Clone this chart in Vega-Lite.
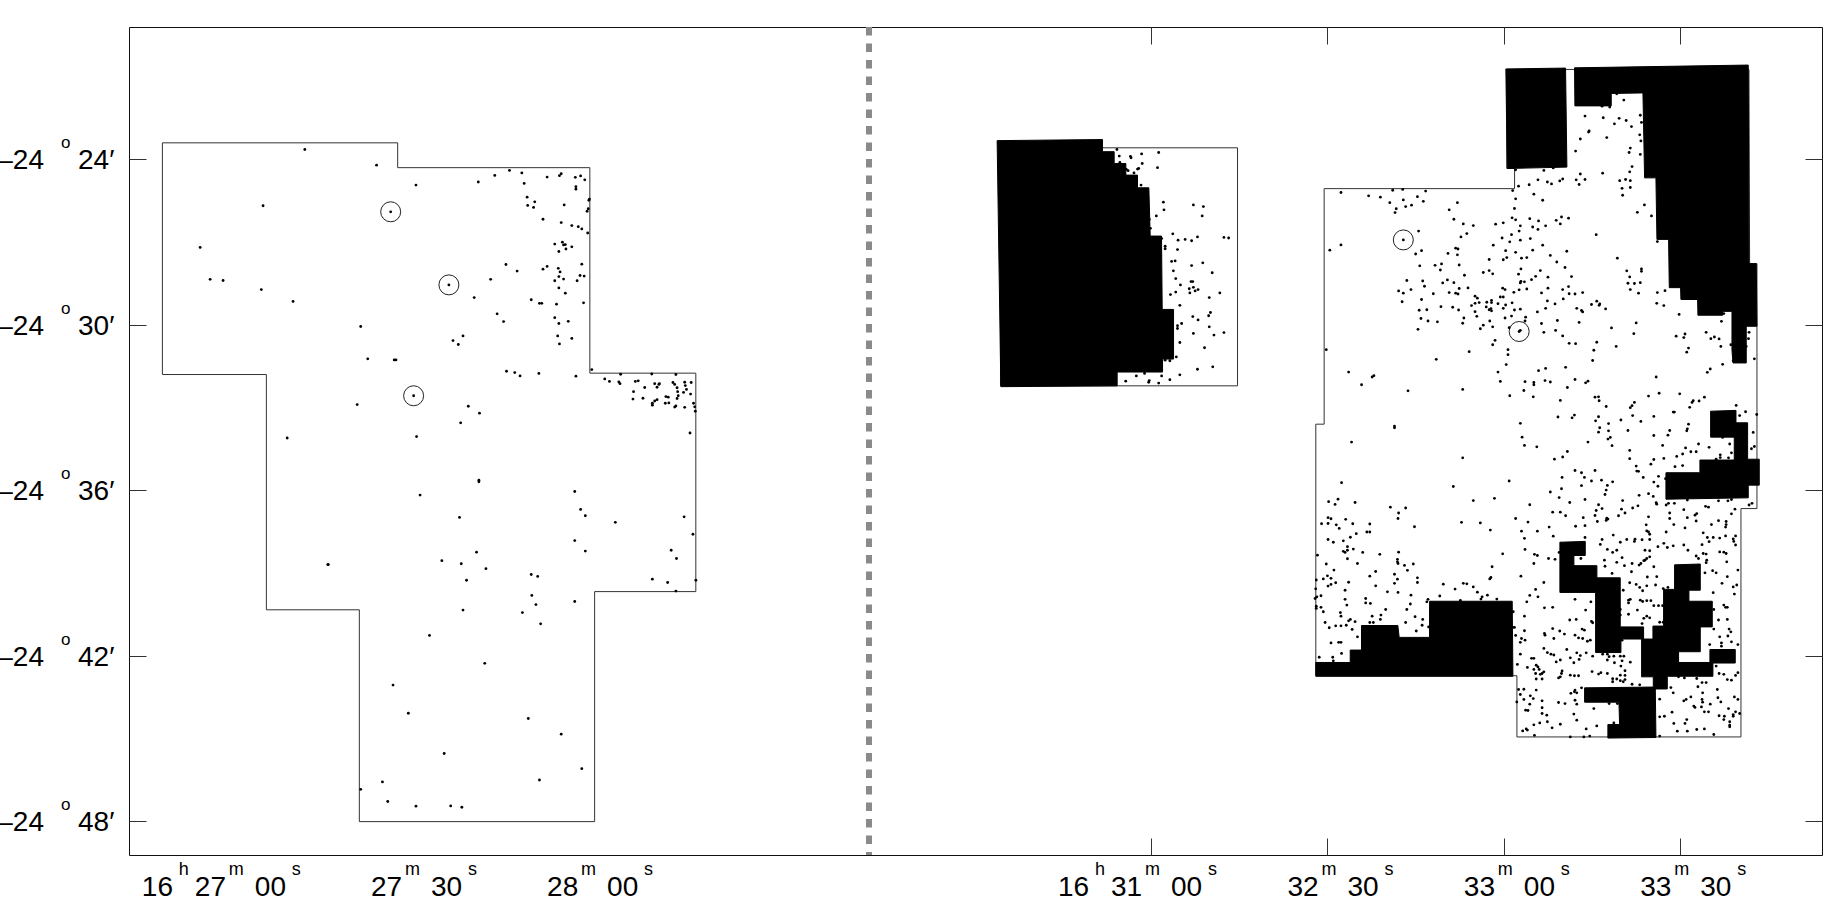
{"$schema":"https://vega.github.io/schema/vega-lite/v6.json","width":1693,"height":828,"autosize":"none","padding":{"left":129,"top":27,"right":17,"bottom":45},"background":"white","config":{"view":{"stroke":"#111","strokeWidth":1},"font":"Liberation Sans"},
"datasets":{
"outlines":[
{"poly":"L","n":1,"ra":-168.12,"dec":23.40},{"poly":"L","n":2,"ra":-128.11,"dec":23.40},{"poly":"L","n":3,"ra":-128.11,"dec":24.30},{"poly":"L","n":4,"ra":-95.43,"dec":24.30},{"poly":"L","n":5,"ra":-95.43,"dec":31.75},{"poly":"L","n":6,"ra":-77.41,"dec":31.75},{"poly":"L","n":7,"ra":-77.41,"dec":39.67},{"poly":"L","n":8,"ra":-94.62,"dec":39.67},{"poly":"L","n":9,"ra":-94.62,"dec":48.01},{"poly":"L","n":10,"ra":-134.63,"dec":48.01},{"poly":"L","n":11,"ra":-134.63,"dec":40.33},{"poly":"L","n":12,"ra":-150.44,"dec":40.33},{"poly":"L","n":13,"ra":-150.44,"dec":31.80},{"poly":"L","n":14,"ra":-168.12,"dec":31.80},
{"poly":"M","n":1,"ra":-25.6,"dec":23.58},{"poly":"M","n":2,"ra":14.71,"dec":23.58},{"poly":"M","n":3,"ra":14.71,"dec":32.21},{"poly":"M","n":4,"ra":-25.6,"dec":32.21},
{"poly":"R","n":1,"ra":29.44,"dec":25.06},{"poly":"R","n":2,"ra":61.82,"dec":25.06},{"poly":"R","n":3,"ra":61.82,"dec":24.33},{"poly":"R","n":4,"ra":60.51,"dec":24.33},{"poly":"R","n":5,"ra":60.51,"dec":20.74},{"poly":"R","n":6,"ra":101.68,"dec":20.74},{"poly":"R","n":7,"ra":101.79,"dec":27.78},{"poly":"R","n":8,"ra":103.04,"dec":27.78},{"poly":"R","n":9,"ra":103.04,"dec":36.66},{"poly":"R","n":10,"ra":100.32,"dec":36.66},{"poly":"R","n":11,"ra":100.32,"dec":44.94},{"poly":"R","n":12,"ra":62.22,"dec":44.94},{"poly":"R","n":13,"ra":62.22,"dec":42.72},{"poly":"R","n":14,"ra":28.02,"dec":42.72},{"poly":"R","n":15,"ra":28.02,"dec":33.60},{"poly":"R","n":16,"ra":29.44,"dec":33.60}],
"masks":[
{"poly":"m","n":1,"ra":-26.17,"dec":23.32},{"poly":"m","n":2,"ra":-8.25,"dec":23.28},{"poly":"m","n":3,"ra":-8.25,"dec":23.72},{"poly":"m","n":4,"ra":-6.27,"dec":23.72},{"poly":"m","n":5,"ra":-6.27,"dec":24.15},{"poly":"m","n":6,"ra":-4.28,"dec":24.15},{"poly":"m","n":7,"ra":-4.28,"dec":24.57},{"poly":"m","n":8,"ra":-2.30,"dec":24.57},{"poly":"m","n":9,"ra":-2.30,"dec":25.03},{"poly":"m","n":10,"ra":-0.37,"dec":25.03},{"poly":"m","n":11,"ra":-0.14,"dec":26.78},{"poly":"m","n":12,"ra":1.78,"dec":26.78},{"poly":"m","n":13,"ra":1.90,"dec":29.44},{"poly":"m","n":14,"ra":3.83,"dec":29.44},{"poly":"m","n":15,"ra":3.83,"dec":31.24},{"poly":"m","n":16,"ra":1.96,"dec":31.24},{"poly":"m","n":17,"ra":1.96,"dec":31.71},{"poly":"m","n":18,"ra":-5.76,"dec":31.71},{"poly":"m","n":19,"ra":-5.76,"dec":32.21},{"poly":"m","n":20,"ra":-25.54,"dec":32.24},
{"poly":"a","n":1,"ra":60.34,"dec":20.72},{"poly":"a","n":2,"ra":70.49,"dec":20.69},{"poly":"a","n":3,"ra":70.72,"dec":24.28},{"poly":"a","n":4,"ra":60.57,"dec":24.33},
{"poly":"b","n":1,"ra":72.02,"dec":20.68},{"poly":"b","n":2,"ra":101.56,"dec":20.58},{"poly":"b","n":3,"ra":101.68,"dec":27.78},{"poly":"b","n":4,"ra":102.92,"dec":27.78},{"poly":"b","n":5,"ra":103.04,"dec":30.05},{"poly":"b","n":6,"ra":101.22,"dec":30.05},{"poly":"b","n":7,"ra":101.22,"dec":31.38},{"poly":"b","n":8,"ra":98.96,"dec":31.38},{"poly":"b","n":9,"ra":98.79,"dec":30.92},{"poly":"b","n":10,"ra":98.79,"dec":29.51},{"poly":"b","n":11,"ra":97.20,"dec":29.51},{"poly":"b","n":12,"ra":97.20,"dec":29.65},{"poly":"b","n":13,"ra":93.0,"dec":29.65},{"poly":"b","n":14,"ra":92.95,"dec":29.08},{"poly":"b","n":15,"ra":90.11,"dec":29.08},{"poly":"b","n":16,"ra":90.05,"dec":28.65},{"poly":"b","n":17,"ra":88.13,"dec":28.65},{"poly":"b","n":18,"ra":88.01,"dec":26.90},{"poly":"b","n":19,"ra":86.03,"dec":26.90},{"poly":"b","n":20,"ra":85.86,"dec":24.67},{"poly":"b","n":21,"ra":83.93,"dec":24.67},{"poly":"b","n":22,"ra":83.65,"dec":21.59},{"poly":"b","n":23,"ra":78.26,"dec":21.61},{"poly":"b","n":24,"ra":78.26,"dec":22.06},{"poly":"b","n":25,"ra":72.08,"dec":22.06},
{"poly":"c","n":1,"ra":95.16,"dec":33.13},{"poly":"c","n":2,"ra":99.47,"dec":33.10},{"poly":"c","n":3,"ra":99.47,"dec":33.55},{"poly":"c","n":4,"ra":101.45,"dec":33.55},{"poly":"c","n":5,"ra":101.45,"dec":34.87},{"poly":"c","n":6,"ra":103.43,"dec":34.87},{"poly":"c","n":7,"ra":103.43,"dec":35.81},{"poly":"c","n":8,"ra":101.56,"dec":35.81},{"poly":"c","n":9,"ra":101.56,"dec":36.27},{"poly":"c","n":10,"ra":87.56,"dec":36.32},{"poly":"c","n":11,"ra":87.56,"dec":35.36},{"poly":"c","n":12,"ra":93.34,"dec":35.36},{"poly":"c","n":13,"ra":93.34,"dec":34.90},{"poly":"c","n":14,"ra":99.18,"dec":34.90},{"poly":"c","n":15,"ra":99.18,"dec":34.07},{"poly":"c","n":16,"ra":95.16,"dec":34.07},
{"poly":"d","n":1,"ra":28.02,"dec":42.24},{"poly":"d","n":2,"ra":33.87,"dec":42.24},{"poly":"d","n":3,"ra":33.87,"dec":41.79},{"poly":"d","n":4,"ra":35.79,"dec":41.79},{"poly":"d","n":5,"ra":35.79,"dec":40.90},{"poly":"d","n":6,"ra":41.97,"dec":40.90},{"poly":"d","n":7,"ra":42.20,"dec":41.33},{"poly":"d","n":8,"ra":47.36,"dec":41.33},{"poly":"d","n":9,"ra":47.36,"dec":40.02},{"poly":"d","n":10,"ra":61.42,"dec":40.02},{"poly":"d","n":11,"ra":61.54,"dec":42.74},{"poly":"d","n":12,"ra":28.02,"dec":42.74},
{"poly":"e","n":1,"ra":69.53,"dec":37.88},{"poly":"e","n":2,"ra":73.84,"dec":37.85},{"poly":"e","n":3,"ra":73.84,"dec":38.36},{"poly":"e","n":4,"ra":71.91,"dec":38.36},{"poly":"e","n":5,"ra":71.91,"dec":38.73},{"poly":"e","n":6,"ra":75.82,"dec":38.73},{"poly":"e","n":7,"ra":75.82,"dec":39.17},{"poly":"e","n":8,"ra":79.79,"dec":39.17},{"poly":"e","n":9,"ra":79.79,"dec":40.95},{"poly":"e","n":10,"ra":83.76,"dec":40.95},{"poly":"e","n":11,"ra":83.76,"dec":41.39},{"poly":"e","n":12,"ra":79.91,"dec":41.39},{"poly":"e","n":13,"ra":79.91,"dec":41.88},{"poly":"e","n":14,"ra":75.60,"dec":41.88},{"poly":"e","n":15,"ra":75.60,"dec":39.70},{"poly":"e","n":16,"ra":69.53,"dec":39.70},
{"poly":"f","n":1,"ra":89.03,"dec":38.70},{"poly":"f","n":2,"ra":93.40,"dec":38.67},{"poly":"f","n":3,"ra":93.40,"dec":39.62},{"poly":"f","n":4,"ra":91.47,"dec":39.62},{"poly":"f","n":5,"ra":91.47,"dec":40.02},{"poly":"f","n":6,"ra":95.44,"dec":40.02},{"poly":"f","n":7,"ra":95.44,"dec":40.95},{"poly":"f","n":8,"ra":93.40,"dec":40.95},{"poly":"f","n":9,"ra":93.40,"dec":41.85},{"poly":"f","n":10,"ra":89.71,"dec":41.85},{"poly":"f","n":11,"ra":89.71,"dec":42.24},{"poly":"f","n":12,"ra":95.04,"dec":42.24},{"poly":"f","n":13,"ra":95.04,"dec":41.77},{"poly":"f","n":14,"ra":99.35,"dec":41.77},{"poly":"f","n":15,"ra":99.35,"dec":42.26},{"poly":"f","n":16,"ra":95.55,"dec":42.26},{"poly":"f","n":17,"ra":95.55,"dec":42.74},{"poly":"f","n":18,"ra":87.79,"dec":42.74},{"poly":"f","n":19,"ra":87.79,"dec":43.20},{"poly":"f","n":20,"ra":85.41,"dec":43.20},{"poly":"f","n":21,"ra":85.41,"dec":42.76},{"poly":"f","n":22,"ra":83.42,"dec":42.76},{"poly":"f","n":23,"ra":83.42,"dec":41.39},{"poly":"f","n":24,"ra":85.35,"dec":41.39},{"poly":"f","n":25,"ra":85.35,"dec":40.92},{"poly":"f","n":26,"ra":87.16,"dec":40.92},{"poly":"f","n":27,"ra":87.16,"dec":39.59},{"poly":"f","n":28,"ra":89.03,"dec":39.59},
{"poly":"h","n":1,"ra":73.73,"dec":43.16},{"poly":"h","n":2,"ra":85.75,"dec":43.13},{"poly":"h","n":3,"ra":85.86,"dec":44.96},{"poly":"h","n":4,"ra":77.69,"dec":44.98},{"poly":"h","n":5,"ra":77.69,"dec":44.49},{"poly":"h","n":6,"ra":79.68,"dec":44.49},{"poly":"h","n":7,"ra":79.57,"dec":43.68},{"poly":"h","n":8,"ra":73.73,"dec":43.68}],
"circles":[{"ra":-129.3,"dec":25.90},{"ra":-119.4,"dec":28.55},{"ra":-125.4,"dec":32.57},{"ra":42.9,"dec":26.92},{"ra":62.6,"dec":30.24}],
"sources":[
{"ra":-143.9,"dec":23.64},{"ra":-131.7,"dec":24.21},{"ra":-125.0,"dec":24.93},{"ra":-114.4,"dec":24.82},{"ra":-111.6,"dec":24.58},{"ra":-109.1,"dec":24.40},{"ra":-107.0,"dec":24.49},{"ra":-106.6,"dec":24.87},{"ra":-102.7,"dec":24.64},{"ra":-100.6,"dec":24.59},{"ra":-100.3,"dec":24.52},{"ra":-97.9,"dec":24.65},{"ra":-97.0,"dec":24.60},{"ra":-96.3,"dec":24.74},{"ra":-97.8,"dec":24.99},{"ra":-97.8,"dec":25.08},{"ra":-95.6,"dec":25.48},{"ra":-95.5,"dec":25.44},{"ra":-106.1,"dec":25.37},{"ra":-104.8,"dec":25.54},{"ra":-106.0,"dec":25.67},{"ra":-105.0,"dec":25.74},{"ra":-99.8,"dec":25.65},{"ra":-95.7,"dec":25.79},{"ra":-95.9,"dec":25.88},{"ra":-151.0,"dec":25.68},{"ra":-129.3,"dec":25.90},{"ra":-103.4,"dec":26.17},{"ra":-100.3,"dec":26.29},{"ra":-98.5,"dec":26.40},{"ra":-97.4,"dec":26.44},{"ra":-96.8,"dec":26.52},{"ra":-95.8,"dec":26.67},{"ra":-161.7,"dec":27.19},{"ra":-101.4,"dec":27.07},{"ra":-100.1,"dec":27.00},{"ra":-99.9,"dec":27.10},{"ra":-99.6,"dec":27.09},{"ra":-98.5,"dec":27.17},{"ra":-99.5,"dec":27.25},{"ra":-100.7,"dec":27.34},{"ra":-109.7,"dec":27.81},{"ra":-107.8,"dec":28.05},{"ra":-103.4,"dec":27.98},{"ra":-102.7,"dec":27.88},{"ra":-100.8,"dec":27.95},{"ra":-100.5,"dec":28.08},{"ra":-96.8,"dec":27.80},{"ra":-97.1,"dec":28.21},{"ra":-96.4,"dec":28.23},{"ra":-100.7,"dec":28.25},{"ra":-99.9,"dec":28.34},{"ra":-101.4,"dec":28.40},{"ra":-97.6,"dec":28.40},{"ra":-160.0,"dec":28.35},{"ra":-157.8,"dec":28.39},{"ra":-119.4,"dec":28.55},{"ra":-112.3,"dec":28.35},{"ra":-151.3,"dec":28.72},{"ra":-100.7,"dec":28.66},{"ra":-99.6,"dec":28.85},{"ra":-115.1,"dec":29.01},{"ra":-105.4,"dec":29.09},{"ra":-104.0,"dec":29.22},{"ra":-103.6,"dec":29.22},{"ra":-101.1,"dec":29.25},{"ra":-96.5,"dec":29.20},{"ra":-145.9,"dec":29.15},{"ra":-111.2,"dec":29.60},{"ra":-110.1,"dec":29.88},{"ra":-101.4,"dec":29.74},{"ra":-100.7,"dec":29.95},{"ra":-99.1,"dec":29.87},{"ra":-134.4,"dec":30.06},{"ra":-100.9,"dec":30.40},{"ra":-98.5,"dec":30.49},{"ra":-117.0,"dec":30.40},{"ra":-118.7,"dec":30.57},{"ra":-117.8,"dec":30.71},{"ra":-100.6,"dec":30.69},{"ra":-133.2,"dec":31.23},{"ra":-128.7,"dec":31.27},{"ra":-128.4,"dec":31.27},{"ra":-109.6,"dec":31.68},{"ra":-108.2,"dec":31.73},{"ra":-107.3,"dec":31.85},{"ra":-104.1,"dec":31.76},{"ra":-97.8,"dec":31.86},{"ra":-95.1,"dec":31.62},{"ra":-92.9,"dec":31.96},{"ra":-92.1,"dec":32.05},{"ra":-90.2,"dec":31.79},{"ra":-90.5,"dec":32.07},{"ra":-90.3,"dec":32.13},{"ra":-87.7,"dec":32.05},{"ra":-87.2,"dec":32.03},{"ra":-84.9,"dec":31.78},{"ra":-80.8,"dec":31.80},{"ra":-84.4,"dec":32.13},{"ra":-83.6,"dec":32.13},{"ra":-84.0,"dec":32.26},{"ra":-83.7,"dec":32.16},{"ra":-86.1,"dec":32.27},{"ra":-88.0,"dec":32.42},{"ra":-88.1,"dec":32.69},{"ra":-86.4,"dec":32.66},{"ra":-81.3,"dec":32.09},{"ra":-81.0,"dec":32.16},{"ra":-79.3,"dec":32.08},{"ra":-78.2,"dec":32.09},{"ra":-79.2,"dec":32.20},{"ra":-80.6,"dec":32.28},{"ra":-80.5,"dec":32.42},{"ra":-79.0,"dec":32.34},{"ra":-79.5,"dec":32.45},{"ra":-78.3,"dec":32.51},{"ra":-82.1,"dec":32.62},{"ra":-82.5,"dec":32.60},{"ra":-80.4,"dec":32.57},{"ra":-80.6,"dec":32.67},{"ra":-125.4,"dec":32.57},{"ra":-84.0,"dec":32.71},{"ra":-84.4,"dec":32.76},{"ra":-84.8,"dec":32.84},{"ra":-84.8,"dec":32.91},{"ra":-82.6,"dec":32.84},{"ra":-82.0,"dec":32.83},{"ra":-77.8,"dec":32.84},{"ra":-77.6,"dec":32.97},{"ra":-80.8,"dec":32.94},{"ra":-81.0,"dec":32.98},{"ra":-79.3,"dec":32.99},{"ra":-77.5,"dec":33.13},{"ra":-135.0,"dec":32.89},{"ra":-116.1,"dec":32.95},{"ra":-114.2,"dec":33.20},{"ra":-117.4,"dec":33.55},{"ra":-146.9,"dec":34.10},{"ra":-124.9,"dec":34.05},{"ra":-78.4,"dec":33.92},
{"ra":-114.3,"dec":35.63},{"ra":-114.3,"dec":35.69},{"ra":-124.3,"dec":36.17},{"ra":-98.0,"dec":36.04},{"ra":-117.6,"dec":36.98},{"ra":-97.0,"dec":36.69},{"ra":-96.2,"dec":36.92},{"ra":-91.1,"dec":37.16},{"ra":-79.4,"dec":36.96},{"ra":-77.9,"dec":37.59},{"ra":-98.0,"dec":37.82},{"ra":-96.2,"dec":38.20},{"ra":-81.6,"dec":38.17},{"ra":-80.7,"dec":38.47},{"ra":-114.7,"dec":38.24},{"ra":-120.6,"dec":38.55},{"ra":-117.3,"dec":38.66},{"ra":-113.1,"dec":38.84},{"ra":-140.0,"dec":38.69},{"ra":-139.9,"dec":38.69},{"ra":-105.4,"dec":39.05},{"ra":-104.3,"dec":39.12},{"ra":-116.4,"dec":39.26},{"ra":-84.8,"dec":39.22},{"ra":-82.2,"dec":39.34},{"ra":-80.8,"dec":39.65},{"ra":-77.4,"dec":39.26},{"ra":-105.3,"dec":39.81},{"ra":-104.6,"dec":40.14},{"ra":-98.0,"dec":40.03},{"ra":-117.0,"dec":40.34},{"ra":-106.9,"dec":40.43},{"ra":-103.8,"dec":40.84},{"ra":-122.7,"dec":41.26},{"ra":-113.3,"dec":42.27},{"ra":-128.9,"dec":43.06},{"ra":-126.3,"dec":44.08},{"ra":-105.9,"dec":44.27},{"ra":-100.3,"dec":44.84},{"ra":-120.2,"dec":45.54},{"ra":-96.8,"dec":46.09},{"ra":-104.0,"dec":46.50},{"ra":-130.7,"dec":46.57},{"ra":-134.4,"dec":46.84},{"ra":-129.8,"dec":47.28},{"ra":-125.0,"dec":47.45},{"ra":-119.1,"dec":47.44},{"ra":-117.2,"dec":47.49},
{"ra":-5.8,"dec":23.64},{"ra":-5.4,"dec":23.88},{"ra":-3.5,"dec":23.89},{"ra":-3.4,"dec":23.94},{"ra":-1.6,"dec":23.80},{"ra":1.3,"dec":23.75},{"ra":-5.3,"dec":24.11},{"ra":-1.5,"dec":24.15},{"ra":-4.2,"dec":24.36},{"ra":-3.9,"dec":24.41},{"ra":-2.1,"dec":24.33},{"ra":-2.3,"dec":24.35},{"ra":1.1,"dec":24.30},{"ra":-2.9,"dec":24.49},{"ra":-1.7,"dec":24.93},{"ra":2.1,"dec":25.55},{"ra":7.2,"dec":25.65},{"ra":8.9,"dec":25.71},{"ra":2.2,"dec":25.83},{"ra":0.9,"dec":26.05},{"ra":8.7,"dec":26.05},{"ra":-0.3,"dec":26.18},{"ra":-0.1,"dec":26.50},{"ra":3.7,"dec":26.70},{"ra":7.9,"dec":26.81},{"ra":12.4,"dec":26.83},{"ra":13.2,"dec":26.85},{"ra":1.8,"dec":26.87},{"ra":4.6,"dec":26.93},{"ra":5.8,"dec":26.90},{"ra":6.9,"dec":26.95},{"ra":2.4,"dec":27.15},{"ra":2.4,"dec":27.24},{"ra":4.5,"dec":27.27},{"ra":3.5,"dec":27.70},{"ra":4.1,"dec":27.68},{"ra":6.9,"dec":27.85},{"ra":8.8,"dec":27.75},{"ra":3.8,"dec":28.04},{"ra":10.4,"dec":28.11},{"ra":4.2,"dec":28.32},{"ra":6.8,"dec":28.43},{"ra":7.1,"dec":28.43},{"ra":5.0,"dec":28.55},{"ra":6.5,"dec":28.69},{"ra":7.2,"dec":28.64},{"ra":8.0,"dec":28.72},{"ra":7.5,"dec":28.77},{"ra":6.6,"dec":28.84},{"ra":4.2,"dec":28.81},{"ra":3.3,"dec":28.90},{"ra":11.7,"dec":28.84},{"ra":9.9,"dec":29.01},{"ra":4.9,"dec":29.29},{"ra":10.1,"dec":29.55},{"ra":9.8,"dec":29.67},{"ra":7.1,"dec":29.70},{"ra":8.0,"dec":29.82},{"ra":5.2,"dec":29.95},{"ra":4.5,"dec":30.03},{"ra":4.5,"dec":30.13},{"ra":9.9,"dec":30.07},{"ra":7.2,"dec":30.31},{"ra":10.7,"dec":30.37},{"ra":12.4,"dec":30.28},{"ra":4.9,"dec":30.64},{"ra":9.1,"dec":30.83},{"ra":4.3,"dec":31.16},{"ra":3.2,"dec":31.30},{"ra":2.4,"dec":31.28},{"ra":7.9,"dec":31.61},{"ra":10.5,"dec":31.52},{"ra":-1.1,"dec":31.76},{"ra":-2.5,"dec":31.85},{"ra":1.8,"dec":31.85},{"ra":4.9,"dec":31.81},{"ra":-4.3,"dec":32.04},{"ra":-0.3,"dec":32.02},{"ra":-0.4,"dec":32.08},{"ra":3.2,"dec":31.99},{"ra":1.3,"dec":32.11},
{"ra":79.2,"dec":21.62},{"ra":80.4,"dec":21.85},{"ra":76.7,"dec":22.07},{"ra":78.0,"dec":22.10},{"ra":73.8,"dec":22.43},{"ra":76.9,"dec":22.49},{"ra":78.8,"dec":22.71},{"ra":79.6,"dec":22.51},{"ra":80.8,"dec":22.59},{"ra":81.7,"dec":22.81},{"ra":83.2,"dec":22.40},{"ra":83.4,"dec":22.66},{"ra":74.4,"dec":23.01},{"ra":74.5,"dec":22.97},{"ra":73.0,"dec":23.26},{"ra":77.5,"dec":23.21},{"ra":83.1,"dec":23.11},{"ra":83.3,"dec":23.33},{"ra":81.5,"dec":23.59},{"ra":81.3,"dec":23.75},{"ra":83.2,"dec":23.82},{"ra":72.2,"dec":23.70},{"ra":81.8,"dec":24.26},{"ra":81.4,"dec":24.45},{"ra":62.0,"dec":24.38},{"ra":66.8,"dec":24.40},{"ra":68.4,"dec":24.31},{"ra":76.8,"dec":24.50},{"ra":73.0,"dec":24.53},{"ra":72.3,"dec":24.74},{"ra":73.8,"dec":24.73},{"ra":72.8,"dec":24.91},{"ra":65.8,"dec":24.74},{"ra":67.4,"dec":24.82},{"ra":68.1,"dec":24.89},{"ra":69.5,"dec":24.78},{"ra":70.0,"dec":24.71},{"ra":79.7,"dec":24.77},{"ra":80.7,"dec":24.73},{"ra":81.5,"dec":24.77},{"ra":80.1,"dec":25.05},{"ra":81.5,"dec":25.02},{"ra":80.2,"dec":25.30},{"ra":62.5,"dec":24.97},{"ra":64.3,"dec":24.92},{"ra":61.5,"dec":25.13},{"ra":65.1,"dec":25.26},{"ra":66.6,"dec":25.48},{"ra":62.0,"dec":25.43},{"ra":32.3,"dec":25.20},{"ra":37.0,"dec":25.32},{"ra":39.0,"dec":25.37},{"ra":41.1,"dec":25.12},{"ra":42.8,"dec":25.09},{"ra":46.7,"dec":25.15},{"ra":45.3,"dec":25.35},{"ra":42.9,"dec":25.47},{"ra":46.3,"dec":25.52},{"ra":40.6,"dec":25.57},{"ra":41.7,"dec":25.79},{"ra":41.5,"dec":25.93},{"ra":43.3,"dec":25.71},{"ra":44.3,"dec":25.66},{"ra":52.1,"dec":25.57},{"ra":50.7,"dec":25.83},{"ra":61.8,"dec":25.78},{"ra":82.7,"dec":25.92},{"ra":83.9,"dec":25.65},{"ra":85.1,"dec":26.05},{"ra":61.4,"dec":26.12},{"ra":62.0,"dec":26.19},{"ra":64.4,"dec":26.15},{"ra":65.9,"dec":26.23},{"ra":51.5,"dec":26.17},{"ra":53.1,"dec":26.34},{"ra":54.8,"dec":26.40},{"ra":58.6,"dec":26.35},{"ra":59.9,"dec":26.30},{"ra":62.8,"dec":26.41},{"ra":64.9,"dec":26.45},{"ra":67.1,"dec":26.41},{"ra":65.8,"dec":26.54},{"ra":68.9,"dec":26.21},{"ra":69.8,"dec":26.09},{"ra":69.6,"dec":26.34},{"ra":71.0,"dec":26.13},{"ra":62.6,"dec":26.60},{"ra":45.5,"dec":26.60},{"ra":53.7,"dec":26.69},{"ra":52.7,"dec":26.81},{"ra":61.3,"dec":26.73},{"ra":59.7,"dec":26.85},{"ra":75.7,"dec":26.73},{"ra":61.0,"dec":26.99},{"ra":62.8,"dec":26.93},{"ra":64.5,"dec":26.87},{"ra":42.9,"dec":26.92},{"ra":32.3,"dec":27.10},{"ra":30.4,"dec":27.29},{"ra":86.1,"dec":26.98},{"ra":58.2,"dec":27.11},{"ra":66.6,"dec":27.11},{"ra":51.8,"dec":27.22},{"ra":52.2,"dec":27.25},{"ra":46.0,"dec":27.31},{"ra":45.0,"dec":27.43},{"ra":50.5,"dec":27.41},{"ra":60.3,"dec":27.31},{"ra":62.0,"dec":27.37},{"ra":64.9,"dec":27.29},{"ra":52.1,"dec":27.46},{"ra":67.9,"dec":27.48},{"ra":70.7,"dec":27.33},{"ra":63.0,"dec":27.58},{"ra":63.9,"dec":27.56},{"ra":60.5,"dec":27.56},{"ra":59.9,"dec":27.64},{"ra":57.5,"dec":27.63},{"ra":69.0,"dec":27.72},{"ra":79.3,"dec":27.58},{"ra":52.4,"dec":27.83},{"ra":45.7,"dec":27.86},{"ra":48.3,"dec":27.84},{"ra":49.4,"dec":27.79},{"ra":49.2,"dec":28.01},{"ra":70.4,"dec":27.92},{"ra":62.9,"dec":27.97},{"ra":66.2,"dec":28.03},{"ra":83.4,"dec":27.97},{"ra":83.4,"dec":28.06},{"ra":80.9,"dec":28.04},{"ra":56.5,"dec":28.10},{"ra":57.5,"dec":28.03},{"ra":58.1,"dec":28.15},{"ra":62.5,"dec":28.16},{"ra":53.3,"dec":28.20},{"ra":65.4,"dec":28.24},{"ra":64.7,"dec":28.36},{"ra":67.5,"dec":28.27},{"ra":71.5,"dec":28.25},{"ra":81.4,"dec":28.26},{"ra":43.5,"dec":28.39},{"ra":46.2,"dec":28.41},{"ra":50.4,"dec":28.37},{"ra":49.6,"dec":28.48},{"ra":51.5,"dec":28.47},{"ra":62.9,"dec":28.42},{"ra":62.8,"dec":28.48},{"ra":63.5,"dec":28.44},{"ra":46.5,"dec":28.60},{"ra":81.1,"dec":28.49},{"ra":82.2,"dec":28.50},{"ra":83.2,"dec":28.47},{"ra":44.2,"dec":28.72},{"ra":42.1,"dec":28.77},{"ra":42.9,"dec":28.85},{"ra":48.0,"dec":28.87},{"ra":50.7,"dec":28.83},{"ra":51.8,"dec":28.85},{"ra":52.2,"dec":28.88},{"ra":52.4,"dec":28.68},{"ra":53.9,"dec":28.66},{"ra":59.8,"dec":28.67},{"ra":60.2,"dec":28.72},{"ra":62.6,"dec":28.73},{"ra":63.9,"dec":28.70},{"ra":61.7,"dec":28.82},{"ra":67.5,"dec":28.67},{"ra":70.0,"dec":28.72},{"ra":71.0,"dec":28.61},{"ra":71.1,"dec":28.87},{"ra":72.1,"dec":28.88},{"ra":73.4,"dec":28.83},{"ra":66.4,"dec":28.84},{"ra":81.5,"dec":28.72},{"ra":82.9,"dec":28.85},{"ra":86.1,"dec":28.83},{"ra":87.4,"dec":28.76},{"ra":42.7,"dec":29.16},{"ra":46.0,"dec":29.08},{"ra":55.1,"dec":28.96},{"ra":55.5,"dec":29.03},{"ra":55.1,"dec":29.22},{"ra":55.8,"dec":29.19},{"ra":57.1,"dec":29.18},{"ra":57.9,"dec":29.11},{"ra":57.9,"dec":29.19},{"ra":59.0,"dec":29.23},{"ra":59.4,"dec":28.99},{"ra":59.9,"dec":28.99},{"ra":60.3,"dec":29.28},{"ra":61.4,"dec":29.20},{"ra":67.4,"dec":29.13},{"ra":68.7,"dec":29.24},{"ra":70.1,"dec":29.06},{"ra":74.9,"dec":29.26},{"ra":75.8,"dec":29.14},{"ra":76.3,"dec":29.24},{"ra":76.2,"dec":29.29},{"ra":86.0,"dec":29.22},{"ra":87.2,"dec":29.30},{"ra":54.5,"dec":29.30},{"ra":57.0,"dec":29.35},{"ra":49.3,"dec":29.34},{"ra":51.3,"dec":29.36},{"ra":52.3,"dec":29.46},{"ra":45.6,"dec":29.47},{"ra":46.9,"dec":29.45},{"ra":55.1,"dec":29.52},{"ra":57.5,"dec":29.45},{"ra":57.8,"dec":29.41},{"ra":57.9,"dec":29.49},{"ra":59.9,"dec":29.40},{"ra":61.8,"dec":29.46},{"ra":62.8,"dec":29.43},{"ra":67.1,"dec":29.40},{"ra":65.7,"dec":29.53},{"ra":72.4,"dec":29.40},{"ra":73.2,"dec":29.48},{"ra":73.4,"dec":29.53},{"ra":77.3,"dec":29.42},{"ra":89.8,"dec":29.62},{"ra":97.0,"dec":29.87},{"ra":97.4,"dec":29.59},{"ra":55.4,"dec":29.69},{"ra":60.2,"dec":29.75},{"ra":61.3,"dec":29.68},{"ra":63.7,"dec":29.72},{"ra":63.6,"dec":29.86},{"ra":53.2,"dec":29.75},{"ra":45.9,"dec":29.77},{"ra":47.1,"dec":29.86},{"ra":48.7,"dec":29.89},{"ra":53.0,"dec":29.94},{"ra":57.6,"dec":29.86},{"ra":69.1,"dec":29.84},{"ra":72.8,"dec":29.91},{"ra":66.4,"dec":29.95},{"ra":82.5,"dec":29.93},{"ra":56.5,"dec":30.01},{"ra":56.0,"dec":30.14},{"ra":58.1,"dec":30.07},{"ra":60.9,"dec":30.10},{"ra":45.4,"dec":30.16},{"ra":62.6,"dec":30.24},{"ra":62.8,"dec":30.20},{"ra":66.8,"dec":30.27},{"ra":68.8,"dec":30.20},{"ra":78.3,"dec":30.11},{"ra":82.1,"dec":30.32},{"ra":90.8,"dec":30.33},{"ra":89.3,"dec":30.41},{"ra":90.6,"dec":30.46},{"ra":94.4,"dec":30.27},{"ra":95.8,"dec":30.44},{"ra":95.2,"dec":30.50},{"ra":96.6,"dec":30.51},{"ra":101.7,"dec":30.27},{"ra":101.6,"dec":30.50},{"ra":70.0,"dec":30.40},{"ra":58.5,"dec":30.56},{"ra":58.1,"dec":30.72},{"ra":71.1,"dec":30.67},{"ra":72.2,"dec":30.68},{"ra":75.8,"dec":30.63},{"ra":79.1,"dec":30.78},{"ra":96.9,"dec":30.78},{"ra":98.6,"dec":30.72},{"ra":101.2,"dec":30.78},{"ra":91.4,"dec":30.84},{"ra":60.7,"dec":30.90},{"ra":29.8,"dec":30.90},
{"ra":91.1,"dec":30.99},{"ra":54.1,"dec":30.97},{"ra":60.7,"dec":31.08},{"ra":75.3,"dec":30.92},{"ra":48.5,"dec":31.25},{"ra":99.0,"dec":31.30},{"ra":102.6,"dec":31.23},{"ra":75.1,"dec":31.29},{"ra":60.4,"dec":31.44},{"ra":70.5,"dec":31.54},{"ra":67.1,"dec":31.58},{"ra":65.9,"dec":31.66},{"ra":59.0,"dec":31.71},{"ra":97.2,"dec":31.43},{"ra":95.1,"dec":31.60},{"ra":94.6,"dec":31.72},{"ra":33.6,"dec":31.71},{"ra":37.6,"dec":31.89},{"ra":37.9,"dec":31.84},{"ra":85.9,"dec":31.89},{"ra":72.1,"dec":31.98},{"ra":67.0,"dec":32.02},{"ra":67.9,"dec":32.07},{"ra":63.6,"dec":32.06},{"ra":59.4,"dec":32.05},{"ra":65.1,"dec":32.09},{"ra":65.1,"dec":32.17},{"ra":74.3,"dec":32.04},{"ra":73.9,"dec":32.10},{"ra":70.8,"dec":32.27},{"ra":35.8,"dec":32.17},{"ra":43.7,"dec":32.39},{"ra":53.0,"dec":32.34},{"ra":63.4,"dec":32.38},{"ra":86.4,"dec":32.48},{"ra":89.9,"dec":32.50},{"ra":84.6,"dec":32.58},{"ra":75.5,"dec":32.62},{"ra":76.1,"dec":32.61},{"ra":65.0,"dec":32.61},{"ra":61.0,"dec":32.57},{"ra":76.2,"dec":32.75},{"ra":69.6,"dec":32.74},{"ra":94.1,"dec":32.62},{"ra":93.2,"dec":32.76},{"ra":92.2,"dec":32.75},{"ra":92.0,"dec":32.81},{"ra":82.2,"dec":32.81},{"ra":81.8,"dec":32.93},{"ra":81.5,"dec":33.00},{"ra":91.6,"dec":32.99},{"ra":77.4,"dec":32.96},{"ra":99.5,"dec":32.92},{"ra":88.8,"dec":33.16},{"ra":89.0,"dec":33.16},{"ra":101.1,"dec":33.15},{"ra":100.1,"dec":33.29},{"ra":103.0,"dec":33.25},{"ra":76.1,"dec":33.33},{"ra":72.0,"dec":33.27},{"ra":71.6,"dec":33.37},{"ra":69.2,"dec":33.34},{"ra":81.9,"dec":33.29},{"ra":85.5,"dec":33.32},{"ra":79.9,"dec":33.45},{"ra":83.3,"dec":33.50},{"ra":75.6,"dec":33.48},{"ra":62.8,"dec":33.57},{"ra":77.8,"dec":33.58},{"ra":41.4,"dec":33.67},{"ra":41.4,"dec":33.73},{"ra":91.4,"dec":33.60},{"ra":76.3,"dec":33.73},{"ra":77.8,"dec":33.84},{"ra":81.1,"dec":33.83},{"ra":91.2,"dec":33.77},{"ra":91.1,"dec":33.84},{"ra":88.2,"dec":33.83},{"ra":102.4,"dec":33.90},{"ra":76.1,"dec":33.89},{"ra":87.9,"dec":34.00},{"ra":85.5,"dec":34.01},{"ra":63.1,"dec":34.07},{"ra":78.1,"dec":34.08},{"ra":77.7,"dec":34.14},{"ra":97.2,"dec":34.08},{"ra":34.1,"dec":34.25},{"ra":74.3,"dec":34.25},{"ra":98.4,"dec":34.32},{"ra":78.4,"dec":34.38},{"ra":87.0,"dec":34.37},{"ra":63.5,"dec":34.37},{"ra":65.6,"dec":34.42},{"ra":102.6,"dec":34.41},{"ra":102.1,"dec":34.49},{"ra":93.1,"dec":34.32},{"ra":94.9,"dec":34.44},{"ra":90.9,"dec":34.46},{"ra":70.8,"dec":34.59},{"ra":81.4,"dec":34.55},{"ra":91.8,"dec":34.60},{"ra":92.7,"dec":34.60},{"ra":90.4,"dec":34.68},{"ra":98.7,"dec":34.64},{"ra":96.8,"dec":34.71},{"ra":89.4,"dec":34.77},{"ra":70.0,"dec":34.79},{"ra":68.6,"dec":34.87},{"ra":87.2,"dec":34.84},{"ra":85.5,"dec":34.88},{"ra":81.4,"dec":34.85},{"ra":53.0,"dec":34.82},{"ra":98.2,"dec":34.82},{"ra":96.8,"dec":34.81},{"ra":96.1,"dec":34.87},{"ra":85.0,"dec":35.05},{"ra":82.5,"dec":35.12},{"ra":90.4,"dec":35.10},{"ra":89.1,"dec":35.14},{"ra":82.6,"dec":35.30},{"ra":82.9,"dec":35.31},{"ra":72.1,"dec":35.28},{"ra":73.2,"dec":35.36},{"ra":75.5,"dec":35.28},{"ra":73.7,"dec":35.53},{"ra":69.9,"dec":35.53},{"ra":83.7,"dec":35.53},{"ra":86.3,"dec":35.49},{"ra":87.5,"dec":35.58},{"ra":74.9,"dec":35.66},{"ra":76.6,"dec":35.63},{"ra":78.5,"dec":35.69},{"ra":60.9,"dec":35.66},{"ra":85.5,"dec":35.70},{"ra":51.4,"dec":35.86},{"ra":32.4,"dec":35.72},{"ra":73.2,"dec":35.83},{"ra":77.6,"dec":35.82},{"ra":69.8,"dec":35.94},{"ra":77.4,"dec":35.99},{"ra":86.2,"dec":35.85},{"ra":77.2,"dec":36.15},{"ra":67.9,"dec":36.06},{"ra":84.6,"dec":36.12},{"ra":85.4,"dec":36.22},{"ra":83.0,"dec":36.18},{"ra":58.4,"dec":36.29},{"ra":54.8,"dec":36.37},{"ra":69.4,"dec":36.26},{"ra":73.8,"dec":36.33},{"ra":80.2,"dec":36.37},{"ra":30.2,"dec":36.41},{"ra":31.8,"dec":36.32},{"ra":34.7,"dec":36.44},{"ra":31.3,"dec":36.51},{"ra":71.2,"dec":36.44},{"ra":64.4,"dec":36.52},{"ra":85.9,"dec":36.45},{"ra":86.0,"dec":36.50},{"ra":88.0,"dec":36.47},{"ra":87.6,"dec":36.53},{"ra":89.0,"dec":36.47},{"ra":91.2,"dec":36.35},{"ra":96.5,"dec":36.38},{"ra":98.1,"dec":36.38},{"ra":98.7,"dec":36.33},{"ra":101.7,"dec":36.53},{"ra":102.2,"dec":36.47},{"ra":76.1,"dec":36.52},{"ra":40.7,"dec":36.61},{"ra":43.3,"dec":36.64},{"ra":76.7,"dec":36.66},{"ra":75.7,"dec":36.73},{"ra":80.0,"dec":36.68},{"ra":81.9,"dec":36.64},{"ra":82.8,"dec":36.56},{"ra":94.3,"dec":36.58},{"ra":94.8,"dec":36.61},{"ra":99.3,"dec":36.68},{"ra":68.3,"dec":36.79},{"ra":69.6,"dec":36.79},{"ra":80.6,"dec":36.82},{"ra":42.1,"dec":36.82},{"ra":88.2,"dec":36.82},{"ra":98.7,"dec":36.85},{"ra":92.8,"dec":36.84},{"ra":92.5,"dec":36.90},{"ra":75.5,"dec":36.91},{"ra":79.5,"dec":36.92},{"ra":70.5,"dec":36.92},{"ra":84.6,"dec":36.96},{"ra":42.0,"dec":37.02},{"ra":30.1,"dec":36.99},{"ra":30.6,"dec":37.03},{"ra":73.5,"dec":36.99},{"ra":62.0,"dec":37.02},{"ra":77.5,"dec":37.01},{"ra":77.7,"dec":37.04},{"ra":77.4,"dec":37.09},{"ra":88.2,"dec":37.02},{"ra":90.6,"dec":36.70},{"ra":91.2,"dec":36.99},{"ra":92.7,"dec":37.11},{"ra":33.1,"dec":37.05},{"ra":64.1,"dec":37.15},{"ra":75.9,"dec":37.13},{"ra":96.5,"dec":37.10},{"ra":97.8,"dec":37.13},{"ra":52.8,"dec":37.16},{"ra":56.0,"dec":37.18},{"ra":29.0,"dec":37.21},{"ra":30.1,"dec":37.20},{"ra":34.3,"dec":37.21},{"ra":37.2,"dec":37.22},{"ra":31.5,"dec":37.25},{"ra":32.0,"dec":37.38},{"ra":44.8,"dec":37.32},{"ra":72.2,"dec":37.30},{"ra":73.8,"dec":37.28},{"ra":67.7,"dec":37.33},{"ra":84.2,"dec":37.25},{"ra":88.9,"dec":37.24},{"ra":95.3,"dec":37.24},{"ra":97.8,"dec":37.24},{"ra":97.7,"dec":37.33},{"ra":90.8,"dec":37.36},{"ra":57.7,"dec":37.44},{"ra":63.0,"dec":37.48},{"ra":65.7,"dec":37.48},{"ra":84.3,"dec":37.47},{"ra":84.6,"dec":37.51},{"ra":87.6,"dec":37.51},{"ra":93.9,"dec":37.54},{"ra":36.7,"dec":37.51},{"ra":37.2,"dec":37.51},{"ra":34.9,"dec":37.57},{"ra":33.9,"dec":37.70},{"ra":68.4,"dec":37.66},{"ra":78.6,"dec":37.62},{"ra":84.8,"dec":37.59},{"ra":73.8,"dec":37.71},{"ra":94.6,"dec":37.71},{"ra":95.6,"dec":37.71},{"ra":96.7,"dec":37.73},{"ra":97.7,"dec":37.65},{"ra":99.4,"dec":37.65},{"ra":63.5,"dec":37.74},{"ra":99.0,"dec":37.76},{"ra":76.7,"dec":37.78},{"ra":80.9,"dec":37.78},{"ra":82.3,"dec":37.77},{"ra":83.5,"dec":37.79},{"ra":84.8,"dec":37.78},{"ra":30.1,"dec":37.78},
{"ra":31.0,"dec":37.88},{"ra":32.7,"dec":37.83},{"ra":33.4,"dec":38.04},{"ra":33.4,"dec":38.17},{"ra":32.7,"dec":38.21},{"ra":33.0,"dec":38.25},{"ra":34.4,"dec":38.13},{"ra":36.0,"dec":38.25},{"ra":38.9,"dec":38.32},{"ra":42.1,"dec":38.24},{"ra":28.3,"dec":38.35},{"ra":33.4,"dec":38.48},{"ra":41.9,"dec":38.50},{"ra":41.9,"dec":38.59},{"ra":42.0,"dec":38.65},{"ra":29.8,"dec":38.67},{"ra":35.1,"dec":38.65},{"ra":43.1,"dec":38.72},{"ra":44.6,"dec":38.67},{"ra":43.6,"dec":38.90},{"ra":31.1,"dec":38.89},{"ra":38.2,"dec":38.94},{"ra":37.2,"dec":39.11},{"ra":41.4,"dec":39.04},{"ra":41.9,"dec":39.22},{"ra":41.4,"dec":39.37},{"ra":45.3,"dec":39.17},{"ra":45.3,"dec":39.34},{"ra":30.0,"dec":39.10},{"ra":29.3,"dec":39.21},{"ra":30.6,"dec":39.19},{"ra":28.1,"dec":39.25},{"ra":31.4,"dec":39.35},{"ra":30.6,"dec":39.41},{"ra":30.1,"dec":39.47},{"ra":33.6,"dec":39.33},{"ra":38.2,"dec":39.46},{"ra":28.0,"dec":39.57},{"ra":33.0,"dec":39.62},{"ra":40.2,"dec":39.68},{"ra":42.0,"dec":39.70},{"ra":44.2,"dec":39.80},{"ra":49.7,"dec":39.40},{"ra":51.7,"dec":39.58},{"ra":53.1,"dec":39.37},{"ra":53.7,"dec":39.39},{"ra":54.8,"dec":39.50},{"ra":55.5,"dec":39.69},{"ra":57.2,"dec":39.80},{"ra":49.1,"dec":39.83},{"ra":58.8,"dec":39.94},{"ra":56.3,"dec":39.86},{"ra":56.1,"dec":39.94},{"ra":52.6,"dec":39.99},{"ra":47.1,"dec":39.95},{"ra":46.9,"dec":40.04},
{"ra":27.9,"dec":39.92},{"ra":28.2,"dec":39.86},{"ra":28.9,"dec":39.82},{"ra":28.1,"dec":40.20},{"ra":28.1,"dec":40.28},{"ra":28.9,"dec":40.24},{"ra":29.3,"dec":40.40},{"ra":33.0,"dec":39.95},{"ra":36.5,"dec":39.92},{"ra":36.5,"dec":40.08},{"ra":37.3,"dec":40.10},{"ra":33.3,"dec":40.16},{"ra":32.2,"dec":40.43},{"ra":32.3,"dec":40.56},{"ra":33.9,"dec":40.68},{"ra":33.6,"dec":40.73},{"ra":34.7,"dec":40.76},{"ra":37.6,"dec":40.56},{"ra":37.2,"dec":40.79},{"ra":37.8,"dec":40.79},{"ra":39.1,"dec":40.52},{"ra":39.0,"dec":40.68},{"ra":39.9,"dec":40.32},{"ra":43.5,"dec":40.32},{"ra":44.1,"dec":40.12},{"ra":44.9,"dec":40.58},{"ra":43.3,"dec":40.79},{"ra":46.2,"dec":40.68},{"ra":46.1,"dec":40.89},{"ra":47.2,"dec":40.95},{"ra":29.6,"dec":40.79},{"ra":30.3,"dec":40.98},{"ra":31.4,"dec":40.91},{"ra":32.3,"dec":40.91},{"ra":33.2,"dec":40.89},{"ra":34.2,"dec":41.04},{"ra":35.1,"dec":41.31},{"ra":30.6,"dec":41.53},{"ra":31.9,"dec":41.51},{"ra":32.3,"dec":41.51},{"ra":32.4,"dec":41.91},{"ra":28.6,"dec":42.05},{"ra":30.9,"dec":42.05},{"ra":31.0,"dec":42.18},{"ra":45.1,"dec":41.10},
{"ra":59.8,"dec":38.30},{"ra":58.0,"dec":38.77},{"ra":57.8,"dec":39.16},{"ra":57.6,"dec":39.21},{"ra":63.6,"dec":38.14},{"ra":65.2,"dec":38.32},{"ra":65.7,"dec":38.36},{"ra":65.1,"dec":38.65},{"ra":67.6,"dec":38.47},{"ra":68.7,"dec":38.50},{"ra":69.4,"dec":38.25},{"ra":73.1,"dec":38.47},{"ra":62.9,"dec":39.11},{"ra":66.8,"dec":39.34},{"ra":65.4,"dec":39.59},{"ra":64.4,"dec":39.81},{"ra":65.8,"dec":39.86},{"ra":63.9,"dec":40.04},{"ra":76.4,"dec":37.96},{"ra":77.6,"dec":38.14},{"ra":78.5,"dec":38.25},{"ra":79.2,"dec":38.17},{"ra":79.8,"dec":37.88},{"ra":82.2,"dec":37.85},{"ra":84.0,"dec":38.17},{"ra":84.8,"dec":38.19},{"ra":86.2,"dec":38.04},{"ra":87.2,"dec":37.92},{"ra":87.8,"dec":38.07},{"ra":88.8,"dec":38.01},{"ra":90.6,"dec":37.98},{"ra":91.3,"dec":38.17},{"ra":84.8,"dec":38.41},{"ra":84.3,"dec":38.47},{"ra":83.8,"dec":38.55},{"ra":84.0,"dec":38.53},{"ra":83.3,"dec":38.65},{"ra":83.0,"dec":38.71},{"ra":81.8,"dec":38.65},{"ra":81.7,"dec":38.95},{"ra":80.5,"dec":38.73},{"ra":80.1,"dec":38.44},{"ra":79.2,"dec":38.61},{"ra":77.1,"dec":38.53},{"ra":77.2,"dec":38.75},{"ra":78.4,"dec":39.01},{"ra":84.4,"dec":39.14},{"ra":85.5,"dec":38.77},{"ra":86.0,"dec":39.13},{"ra":81.4,"dec":39.35},{"ra":80.3,"dec":39.62},{"ra":82.5,"dec":39.41},{"ra":83.1,"dec":39.52},{"ra":83.6,"dec":39.64},{"ra":84.3,"dec":39.46},{"ra":85.8,"dec":39.43},{"ra":87.1,"dec":39.56},{"ra":87.9,"dec":39.52},{"ra":92.7,"dec":38.38},{"ra":93.1,"dec":38.47},{"ra":93.9,"dec":38.29},{"ra":94.4,"dec":38.31},{"ra":94.5,"dec":38.53},{"ra":94.4,"dec":38.62},{"ra":94.2,"dec":38.99},{"ra":95.5,"dec":38.91},{"ra":96.1,"dec":38.99},{"ra":98.0,"dec":39.13},{"ra":99.8,"dec":38.89},{"ra":97.9,"dec":38.59},{"ra":96.7,"dec":38.23},{"ra":97.4,"dec":38.24},{"ra":97.8,"dec":38.29},{"ra":93.7,"dec":37.97},{"ra":99.4,"dec":37.98},{"ra":94.9,"dec":37.86},{"ra":99.1,"dec":37.85},{"ra":97.1,"dec":39.37},{"ra":99.0,"dec":39.50},{"ra":99.6,"dec":39.43},{"ra":95.6,"dec":39.71},{"ra":99.2,"dec":39.76},{"ra":97.4,"dec":40.16},{"ra":97.7,"dec":40.24},{"ra":98.0,"dec":40.24},{"ra":95.7,"dec":40.32},{"ra":94.9,"dec":40.51},{"ra":98.0,"dec":40.68},{"ra":96.5,"dec":40.70},{"ra":98.3,"dec":41.03},{"ra":98.6,"dec":41.13},{"ra":95.7,"dec":41.03},{"ra":96.7,"dec":41.31},{"ra":98.1,"dec":41.28},{"ra":98.7,"dec":41.49},{"ra":99.8,"dec":41.59},{"ra":97.0,"dec":41.53},{"ra":95.0,"dec":41.59},{"ra":97.0,"dec":41.65},{"ra":83.2,"dec":39.98},{"ra":83.6,"dec":40.03},{"ra":84.3,"dec":40.00},{"ra":85.0,"dec":40.00},{"ra":85.5,"dec":40.18},{"ra":86.3,"dec":40.18},{"ra":87.0,"dec":40.18},{"ra":81.2,"dec":39.98},{"ra":81.5,"dec":39.95},{"ra":81.2,"dec":40.08},{"ra":79.8,"dec":40.32},{"ra":79.8,"dec":40.52},{"ra":81.2,"dec":40.49},{"ra":84.3,"dec":40.56},{"ra":84.8,"dec":40.62},{"ra":83.8,"dec":40.64},{"ra":83.5,"dec":40.83},{"ra":86.5,"dec":40.78},{"ra":87.1,"dec":40.78},{"ra":82.7,"dec":40.34},{"ra":80.1,"dec":41.43},{"ra":72.1,"dec":39.95},{"ra":74.8,"dec":40.04},{"ra":73.9,"dec":40.34},{"ra":66.9,"dec":40.26},{"ra":68.3,"dec":40.24},{"ra":63.5,"dec":40.56},{"ra":72.3,"dec":40.68},{"ra":71.2,"dec":40.70},{"ra":74.9,"dec":40.75},{"ra":75.1,"dec":40.80},{"ra":61.6,"dec":40.40},{"ra":61.5,"dec":40.97},{"ra":61.8,"dec":40.97},{"ra":63.5,"dec":41.09},{"ra":63.6,"dec":41.43},{"ra":63.0,"dec":41.37},{"ra":62.0,"dec":41.26},{"ra":62.8,"dec":41.51},{"ra":66.9,"dec":41.19},{"ra":67.0,"dec":41.25},{"ra":68.3,"dec":41.01},{"ra":69.5,"dec":41.10},{"ra":70.3,"dec":41.21},{"ra":72.1,"dec":41.25},{"ra":72.7,"dec":41.35},{"ra":73.4,"dec":41.37},{"ra":73.3,"dec":41.03},{"ra":73.7,"dec":41.07},{"ra":74.7,"dec":41.43},{"ra":74.2,"dec":41.47},{"ra":68.5,"dec":41.37},{"ra":66.8,"dec":41.73},{"ra":67.4,"dec":41.88},{"ra":68.0,"dec":41.94},{"ra":68.5,"dec":41.97},{"ra":70.7,"dec":41.77},{"ra":72.4,"dec":41.89},{"ra":74.0,"dec":41.89},{"ra":75.1,"dec":42.01},{"ra":73.0,"dec":41.99},{"ra":72.8,"dec":42.13},{"ra":71.3,"dec":42.07},{"ra":69.6,"dec":42.15},{"ra":68.9,"dec":42.22},{"ra":71.9,"dec":42.25},{"ra":76.8,"dec":41.94},{"ra":77.6,"dec":41.94},{"ra":77.9,"dec":42.03},{"ra":77.6,"dec":42.15},{"ra":78.7,"dec":42.01},{"ra":78.8,"dec":42.25},{"ra":79.8,"dec":42.01},{"ra":80.4,"dec":42.01},{"ra":80.1,"dec":42.18},{"ra":81.5,"dec":42.23},{"ra":62.8,"dec":41.94},{"ra":62.3,"dec":42.31},{"ra":64.7,"dec":42.09},{"ra":65.1,"dec":42.09},{"ra":64.0,"dec":42.42},{"ra":65.1,"dec":42.49},{"ra":65.5,"dec":42.34},{"ra":65.8,"dec":42.40},{"ra":66.0,"dec":42.49},{"ra":65.4,"dec":42.64},{"ra":66.5,"dec":42.64},{"ra":66.2,"dec":42.67},{"ra":66.8,"dec":42.58},{"ra":65.5,"dec":42.84},{"ra":66.5,"dec":42.84},{"ra":69.9,"dec":42.55},{"ra":69.8,"dec":42.64},{"ra":69.6,"dec":42.76},{"ra":69.3,"dec":42.80},{"ra":71.3,"dec":42.70},{"ra":72.0,"dec":42.72},{"ra":72.7,"dec":42.72},{"ra":75.0,"dec":42.57},{"ra":76.1,"dec":42.66},{"ra":76.5,"dec":42.61},{"ra":77.6,"dec":42.64},{"ra":79.9,"dec":42.37},{"ra":80.6,"dec":42.54},{"ra":79.8,"dec":42.70},{"ra":80.6,"dec":42.71},{"ra":78.5,"dec":42.83},{"ra":79.2,"dec":42.84},{"ra":79.8,"dec":42.90},{"ra":80.3,"dec":42.94},{"ra":80.6,"dec":42.86},{"ra":78.5,"dec":42.94},{"ra":81.8,"dec":43.03},{"ra":83.1,"dec":43.05},{"ra":89.7,"dec":42.76},{"ra":90.7,"dec":42.80},{"ra":92.8,"dec":42.82},{"ra":93.7,"dec":42.97},{"ra":94.4,"dec":42.97},{"ra":96.1,"dec":42.37},{"ra":96.6,"dec":42.64},{"ra":97.4,"dec":42.67},{"ra":98.0,"dec":42.86},{"ra":98.7,"dec":42.88},{"ra":99.4,"dec":42.71},{"ra":99.8,"dec":42.61},{"ra":88.8,"dec":43.34},{"ra":88.4,"dec":43.15},{"ra":93.0,"dec":43.12},{"ra":93.8,"dec":43.34},{"ra":96.3,"dec":43.22},{"ra":96.4,"dec":43.52},{"ra":99.2,"dec":43.49},{"ra":99.8,"dec":43.58},{"ra":91.0,"dec":43.58},{"ra":90.6,"dec":43.63},{"ra":91.8,"dec":43.49},{"ra":93.7,"dec":43.58},{"ra":93.8,"dec":43.68},{"ra":92.3,"dec":43.82},{"ra":92.5,"dec":43.87},{"ra":93.6,"dec":43.85},{"ra":95.1,"dec":43.75},{"ra":94.1,"dec":44.03},{"ra":94.8,"dec":44.03},{"ra":96.9,"dec":43.67},{"ra":98.2,"dec":43.91},{"ra":99.0,"dec":44.13},{"ra":100.1,"dec":44.09},{"ra":99.4,"dec":44.03},{"ra":96.6,"dec":44.17},{"ra":97.5,"dec":44.19},{"ra":97.4,"dec":44.31},{"ra":99.0,"dec":44.19},{"ra":98.4,"dec":44.39},{"ra":98.4,"dec":44.51},{"ra":86.5,"dec":43.57},{"ra":86.5,"dec":44.21},{"ra":87.3,"dec":44.19},{"ra":88.6,"dec":44.04},{"ra":88.9,"dec":44.45},{"ra":91.1,"dec":44.31},{"ra":90.8,"dec":44.45},{"ra":89.5,"dec":44.73},{"ra":91.2,"dec":44.73},{"ra":92.8,"dec":44.67},{"ra":94.1,"dec":44.65},{"ra":95.7,"dec":44.85},{"ra":98.4,"dec":44.57},{"ra":86.5,"dec":44.91},{"ra":73.2,"dec":43.16},{"ra":72.1,"dec":43.24},{"ra":71.4,"dec":43.36},{"ra":72.0,"dec":43.30},{"ra":72.4,"dec":43.34},{"ra":72.1,"dec":43.61},{"ra":72.4,"dec":43.75},{"ra":69.3,"dec":43.69},{"ra":70.4,"dec":43.73},{"ra":75.3,"dec":43.91},{"ra":77.9,"dec":43.73},{"ra":79.3,"dec":43.73},{"ra":71.9,"dec":44.11},{"ra":72.4,"dec":44.33},{"ra":69.6,"dec":44.48},{"ra":68.2,"dec":44.61},{"ra":67.4,"dec":44.39},{"ra":66.5,"dec":44.09},{"ra":66.1,"dec":44.43},{"ra":65.1,"dec":44.50},{"ra":63.8,"dec":44.65},{"ra":63.2,"dec":44.72},{"ra":64.0,"dec":44.69},{"ra":65.2,"dec":44.88},{"ra":71.3,"dec":44.94},{"ra":73.6,"dec":44.94},{"ra":74.6,"dec":44.91},{"ra":74.0,"dec":44.65},{"ra":75.8,"dec":44.54},{"ra":78.7,"dec":44.43},{"ra":62.5,"dec":43.22},{"ra":63.4,"dec":43.21},{"ra":62.8,"dec":43.40},{"ra":62.2,"dec":43.67},{"ra":64.5,"dec":43.45},{"ra":65.0,"dec":43.55},{"ra":65.5,"dec":43.24},{"ra":63.4,"dec":43.58},{"ra":64.4,"dec":43.75},{"ra":66.5,"dec":43.63},{"ra":66.5,"dec":43.88},{"ra":63.7,"dec":43.97},{"ra":64.1,"dec":43.98},{"ra":67.3,"dec":44.15}
],
"ylabels":[{"ra":-173.8,"dec":24,"deg":"–24","o":"o","min":"24′"},{"ra":-173.8,"dec":30,"deg":"–24","o":"o","min":"30′"},{"ra":-173.8,"dec":36,"deg":"–24","o":"o","min":"36′"},{"ra":-173.8,"dec":42,"deg":"–24","o":"o","min":"42′"},{"ra":-173.8,"dec":48,"deg":"–24","o":"o","min":"48′"}],
"xlabels":[{"ra":-155.8,"dec":49.22,"hr":"16","h":"h","min":"27","m":"m","sec":"00","s":"s"},{"ra":-125.85,"dec":49.22,"min":"27","m":"m","sec":"30","s":"s"},{"ra":-95.9,"dec":49.22,"min":"28","m":"m","sec":"00","s":"s"},{"ra":0,"dec":49.22,"hr":"16","h":"h","min":"31","m":"m","sec":"00","s":"s"},{"ra":30,"dec":49.22,"min":"32","m":"m","sec":"30","s":"s"},{"ra":60,"dec":49.22,"min":"33","m":"m","sec":"00","s":"s"},{"ra":90,"dec":49.22,"min":"33","m":"m","sec":"30","s":"s"}],
"divider":[{"ra":-47.96,"dec":19.2},{"ra":-47.96,"dec":49.22}]
},
"encoding":{"x":{"field":"ra","type":"quantitative","scale":{"domain":[-173.8,114.1],"nice":false,"zero":false},"axis":null},"y":{"field":"dec","type":"quantitative","scale":{"domain":[19.2,49.22],"reverse":true,"nice":false,"zero":false},"axis":null}},
"resolve":{"axis":{"x":"independent","y":"independent"}},
"layer":[
{"data":{"name":"outlines"},"mark":{"type":"line","interpolate":"linear-closed","stroke":"#333","strokeWidth":1},"encoding":{"detail":{"field":"poly"},"order":{"field":"n","type":"quantitative"},
"x":{"field":"ra","type":"quantitative","scale":{"domain":[-173.8,114.1],"nice":false,"zero":false},"axis":{"orient":"bottom","values":[0,30,60,90],"tickSize":-17,"labels":false,"domain":false,"grid":false,"title":null,"tickColor":"#333"}},
"y":{"field":"dec","type":"quantitative","scale":{"domain":[19.2,49.22],"reverse":true,"nice":false,"zero":false},"axis":{"orient":"left","values":[24,30,36,42,48],"tickSize":-17,"labels":false,"domain":false,"grid":false,"title":null,"tickColor":"#333"}}}},
{"data":{"name":"divider"},"mark":{"type":"line","stroke":"#8a8a8a","strokeWidth":6,"strokeDash":[8.5,8]},"encoding":{
"x":{"field":"ra","type":"quantitative","scale":{"domain":[-173.8,114.1],"nice":false,"zero":false},"axis":{"orient":"top","values":[0,30,60,90],"tickSize":-17,"labels":false,"domain":false,"grid":false,"title":null,"tickColor":"#333"}},
"y":{"field":"dec","type":"quantitative","scale":{"domain":[19.2,49.22],"reverse":true,"nice":false,"zero":false},"axis":{"orient":"right","values":[24,30,36,42,48],"tickSize":-17,"labels":false,"domain":false,"grid":false,"title":null,"tickColor":"#333"}}}},
{"data":{"name":"masks"},"mark":{"type":"line","interpolate":"linear-closed","fill":"black","stroke":"black","strokeWidth":1},"encoding":{"detail":{"field":"poly"},"order":{"field":"n","type":"quantitative"}}},
{"data":{"name":"circles"},"mark":{"type":"point","shape":"circle","size":400,"filled":false,"stroke":"#222","strokeWidth":1,"opacity":1}},
{"data":{"name":"sources"},"mark":{"type":"point","shape":"circle","size":8,"filled":true,"fill":"black","stroke":null,"opacity":1}},
{"data":{"name":"ylabels"},"mark":{"type":"text","align":"right","baseline":"alphabetic","fontSize":28,"dx":-85,"dy":10,"fill":"black"},"encoding":{"text":{"field":"deg"}}},
{"data":{"name":"ylabels"},"mark":{"type":"text","align":"left","baseline":"alphabetic","fontSize":17,"dx":-68,"dy":-11,"fill":"black"},"encoding":{"text":{"field":"o"}}},
{"data":{"name":"ylabels"},"mark":{"type":"text","align":"left","baseline":"alphabetic","fontSize":28,"dx":-51,"dy":10,"fill":"black"},"encoding":{"text":{"field":"min"}}},
{"data":{"name":"xlabels"},"transform":[{"filter":"isValid(datum.hr)"}],"mark":{"type":"text","align":"left","baseline":"alphabetic","fontSize":28,"dx":-93,"dy":41,"fill":"black"},"encoding":{"text":{"field":"hr"}}},
{"data":{"name":"xlabels"},"transform":[{"filter":"isValid(datum.h)"}],"mark":{"type":"text","align":"left","baseline":"alphabetic","fontSize":18,"dx":-56,"dy":20,"fill":"black"},"encoding":{"text":{"field":"h"}}},
{"data":{"name":"xlabels"},"mark":{"type":"text","align":"left","baseline":"alphabetic","fontSize":28,"dx":-40,"dy":41,"fill":"black"},"encoding":{"text":{"field":"min"}}},
{"data":{"name":"xlabels"},"mark":{"type":"text","align":"left","baseline":"alphabetic","fontSize":18,"dx":-6,"dy":20,"fill":"black"},"encoding":{"text":{"field":"m"}}},
{"data":{"name":"xlabels"},"mark":{"type":"text","align":"left","baseline":"alphabetic","fontSize":28,"dx":20,"dy":41,"fill":"black"},"encoding":{"text":{"field":"sec"}}},
{"data":{"name":"xlabels"},"mark":{"type":"text","align":"left","baseline":"alphabetic","fontSize":18,"dx":57,"dy":20,"fill":"black"},"encoding":{"text":{"field":"s"}}}
]}
